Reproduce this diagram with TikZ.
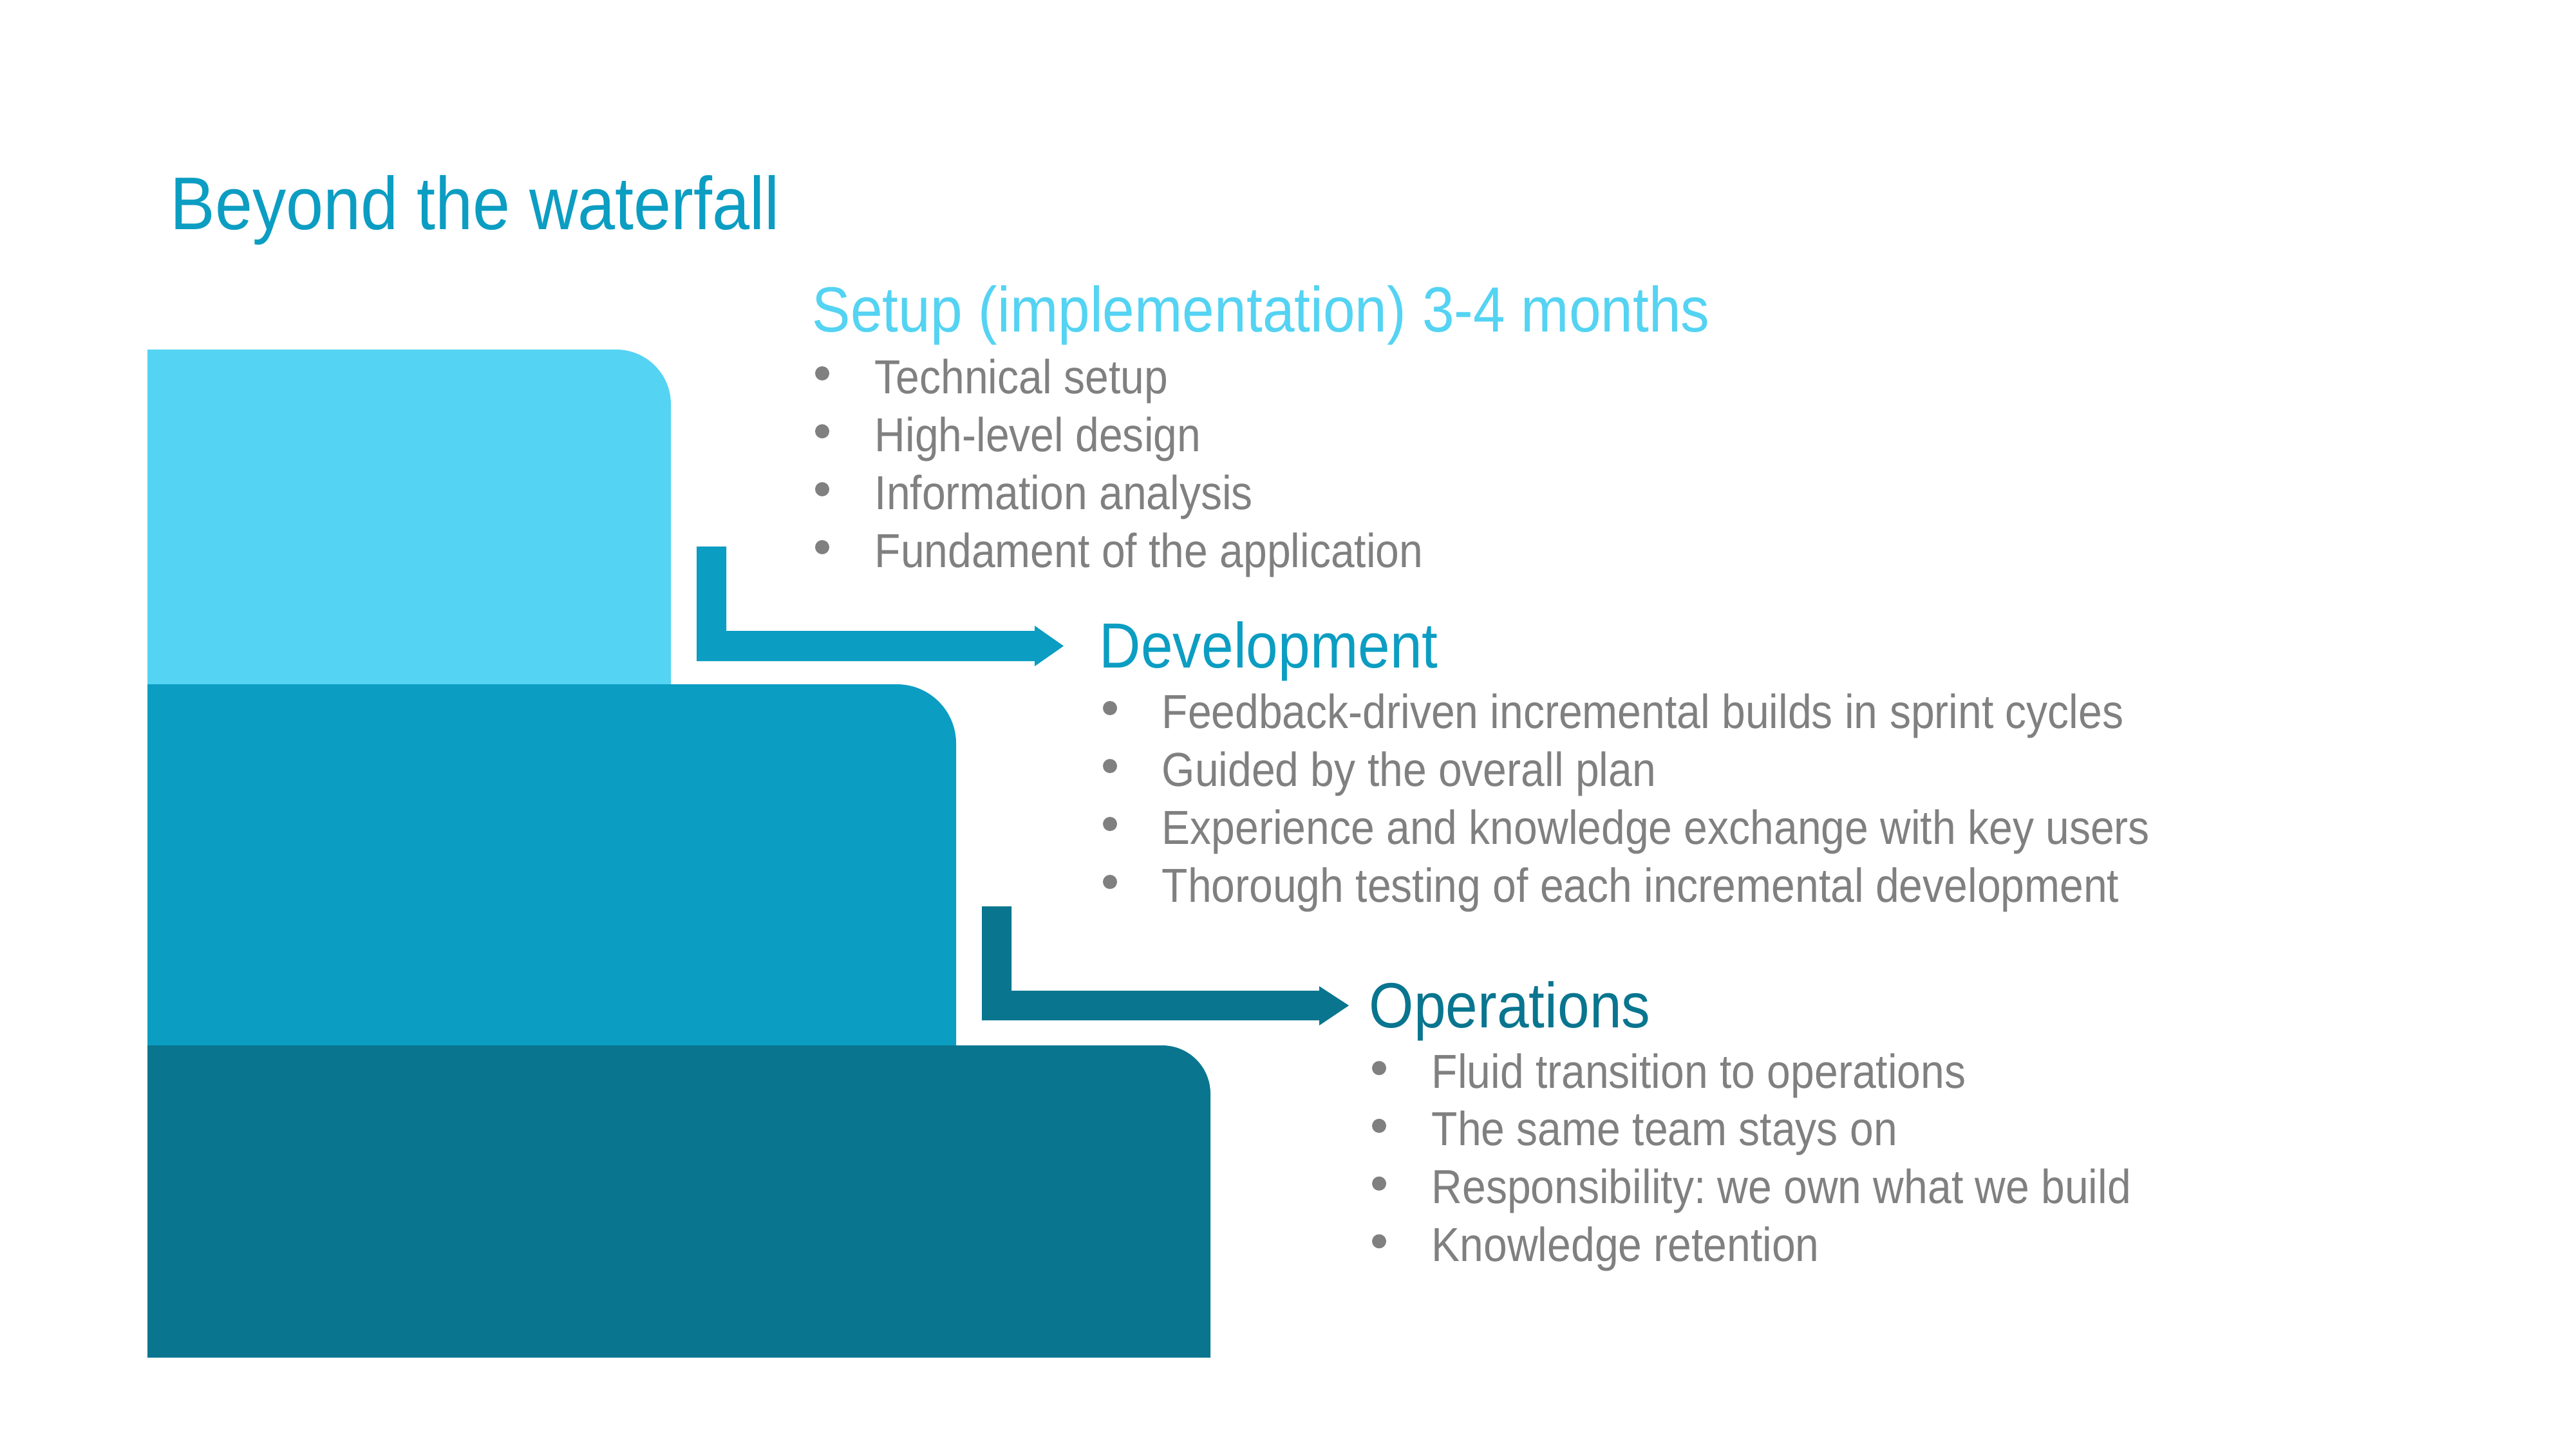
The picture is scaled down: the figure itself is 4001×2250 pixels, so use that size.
\documentclass[tikz,border=0pt]{standalone}
\usepackage{fontspec}
\setmainfont{Liberation Sans}[FakeStretch=0.89]
\newfontfamily\headfont{Liberation Sans}[FakeStretch=0.9]
\definecolor{lightc}{RGB}{84,211,242}
\definecolor{midc}{RGB}{12,157,194}
\definecolor{darkc}{RGB}{9,117,143}
\definecolor{grayc}{RGB}{128,128,128}
\tikzset{
  titletext/.style={anchor=base west,inner sep=0pt,text=midc,font=\headfont\fontsize{33}{40}\selectfont},
  headtext/.style={anchor=base west,inner sep=0pt,font=\headfont\fontsize{28.2}{34}\selectfont},
  itemtext/.style={anchor=base west,inner sep=0pt,text=grayc,font=\fontsize{21.1}{25}\selectfont},
  dot/.style={fill=grayc,draw=none},
}
\begin{document}
\frenchspacing
\begin{tikzpicture}[x=0.01cm,y=-0.01cm]
\useasboundingbox (0,0) rectangle (4001,2250);
% stairs
\fill[lightc] (229,1100) -- (229,543) -- (957,543) arc[start angle=-90,end angle=0,radius=85] -- (1042,1100) -- cycle;
\fill[midc] (229,1640) -- (229,1063) -- (1393,1063) arc[start angle=-90,end angle=0,radius=92] -- (1485,1640) -- cycle;
\fill[darkc] (229,2109) -- (229,1624) -- (1805,1624) arc[start angle=-90,end angle=0,radius=75] -- (1880,2109) -- cycle;
% arrows
\fill[midc] (1082,849) -- (1128,849) -- (1128,980) -- (1607,980) -- (1607,972) -- (1652,1003.5) -- (1607,1035) -- (1607,1027) -- (1082,1027) -- cycle;
\fill[darkc] (1525,1408) -- (1571,1408) -- (1571,1539) -- (2049,1539) -- (2049,1532) -- (2095,1562) -- (2049,1593) -- (2049,1585) -- (1525,1585) -- cycle;
% title
\node[titletext] (title) at (264,356) {Beyond the waterfall};
% setup
\node[headtext,text=lightc] (setup) at (1261,515) {Setup (implementation) 3-4 months};
\foreach \t [count=\i] in {Technical setup,High-level design,Information analysis,Fundament of the application}{
  \node[itemtext] (s\i) at (1358,521+90*\i) {\t};
  \fill[dot] (1277,490+90*\i) circle[radius=11];
}
% development
\node[headtext,text=midc] (dev) at (1707,1037) {Development};
\foreach \t [count=\i] in {Feedback-driven incremental builds in sprint cycles,Guided by the overall plan,Experience and knowledge exchange with key users,Thorough testing of each incremental development}{
  \node[itemtext] (d\i) at (1804,1041+90*\i) {\t};
  \fill[dot] (1724,1010+90*\i) circle[radius=11];
}
% operations
\node[headtext,text=darkc] (ops) at (2126,1596) {Operations};
\foreach \t [count=\i] in {Fluid transition to operations,The same team stays on,Responsibility: we own what we build,Knowledge retention}{
  \node[itemtext] (o\i) at (2223,1600.5+89.7*\i) {\t};
  \fill[dot] (2142,1569.5+89.7*\i) circle[radius=11];
}
\end{tikzpicture}
\end{document}
